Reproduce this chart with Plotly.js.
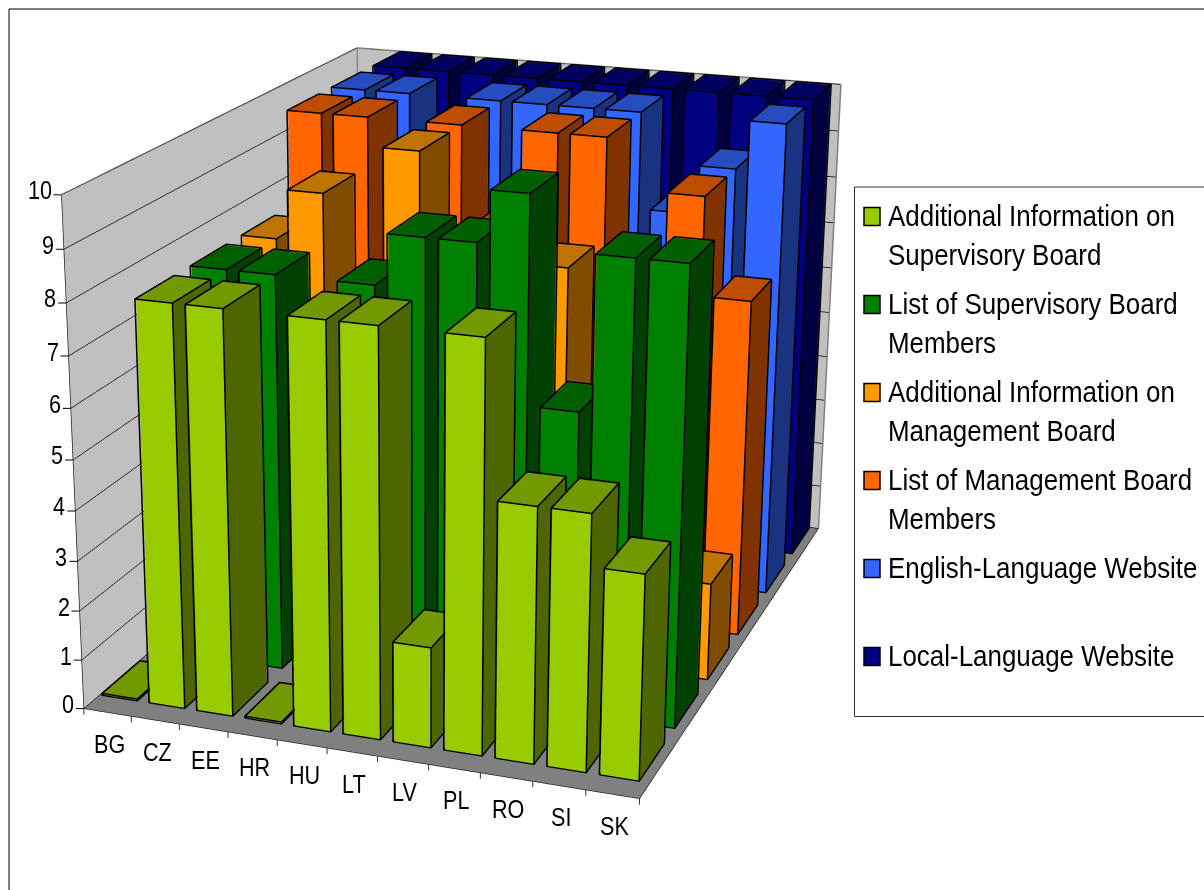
<!DOCTYPE html>
<html><head><meta charset="utf-8">
<script src="https://cdn.plot.ly/plotly-3.0.1.min.js"></script>
<style>html,body{margin:0;padding:0;background:#fff;overflow:hidden;width:1204px;height:890px}
#chart{position:absolute;left:-302px;top:-713px;width:1506px;height:2316px}
/* the chart's lettering is set in a condensed cut of the sans face */
.annotation-text{transform-box:fill-box;transform-origin:right center;transform:scaleX(.83)}
text[data-unformatted*="Board"],text[data-unformatted*="Website"]{transform-origin:left center;transform:scaleX(.865)}
</style>
</head><body><div id="chart"></div>
<script>
const categories = ['BG','CZ','EE','HR','HU','LT','LV','PL','RO','SI','SK'];
const zTicks = [0,1,2,3,4,5,6,7,8,9,10];
const seriesNames = ['Additional Information on<br>Supervisory Board','List of Supervisory Board<br>Members','Additional Information on<br>Management Board','List of Management Board<br>Members','English-Language Website','Local-Language Website'];
const addSupervisory = [0,8,8,0,8,8,2,8,5,5,4];
const listSupervisory = [0,8,8,0,8,9,9,10,6,9,9];
const addManagement = [0,8,9,0,10,8,8,8,5,5,2];
const listManagement = [0,10,10,0,10,8,10,10,7,9,7];
const englishSite = [0,10,10,0,10,10,10,10,8,9,10];
const localSite = [0,10,10,10,10,10,10,10,10,10,10];
const seriesValues = [addSupervisory,listSupervisory,addManagement,listManagement,englishSite,localSite];
const frontColors = ['#99CC00','#008000','#FF9900','#FF6600','#3366FF','#000080'];
const sideColors = ['#4D6600','#004000','#804D00','#803300','#1A3380','#000040'];
const topColors = ['#739900','#006000','#BF7300','#BF4D00','#264DBF','#000060'];

// The canvas is larger than the window so the long focal length of the view fits;
// these helpers map window pixels to paper coordinates for the overlay items.
const CANVAS = {left:-302, top:-713, w:1506, h:2316};
const px = v => (v - CANVAS.left) / CANVAS.w;
const py = v => 1 - (v - CANVAS.top) / CANVAS.h;
const textFont = size => ({family:'"Liberation Sans",Arial,sans-serif', size, color:'#000'});
const paperLine = (x0,y0,x1,y1,color) => ({type:'line',xref:'paper',yref:'paper',x0:px(x0),x1:px(x1),y0:py(y0),y1:py(y1),line:{color,width:1}});

// One mesh of cuboids and one set of black edges per series
const traces = [];
seriesValues.forEach((vals, r) => {
  const xs=[],ys=[],zs=[],I=[],J=[],K=[],fc=[],lx=[],ly=[],lz=[];
  vals.forEach((v, c) => {
    const x0=c+.05, x1=c+.8, y0=r+.28, y1=r+.98, z1=Math.max(v,.04), e=.012, n=xs.length;
    [[x0+e,y0+e,0],[x1-e,y0+e,0],[x1-e,y1-e,0],[x0+e,y1-e,0],[x0+e,y0+e,z1-e],[x1-e,y0+e,z1-e],[x1-e,y1-e,z1-e],[x0+e,y1-e,z1-e]]
      .forEach(q => { xs.push(q[0]); ys.push(q[1]); zs.push(q[2]); });
    [[0,1,5,frontColors],[0,5,4,frontColors],[1,2,6,sideColors],[1,6,5,sideColors],[4,5,6,topColors],[4,6,7,topColors]]
      .forEach(f => { I.push(n+f[0]); J.push(n+f[1]); K.push(n+f[2]); fc.push(f[3][r]); });
    const corner=[[x0,y0,0],[x1,y0,0],[x1,y1,0],[x0,y1,0],[x0,y0,z1],[x1,y0,z1],[x1,y1,z1],[x0,y1,z1]];
    [[0,1,2,3,0,4,5,6,7,4],[1,5],[2,6],[3,7]].forEach(path => {
      path.forEach(i => { lx.push(corner[i][0]); ly.push(corner[i][1]); lz.push(corner[i][2]); });
      lx.push(null); ly.push(null); lz.push(null);
    });
  });
  traces.push({type:'mesh3d',x:xs,y:ys,z:zs,i:I,j:J,k:K,facecolor:fc,flatshading:true,
    lighting:{ambient:1,diffuse:0,specular:0,roughness:1,fresnel:0},hoverinfo:'skip'});
  traces.push({type:'scatter3d',mode:'lines',x:lx,y:ly,z:lz,line:{color:'#000',width:3},hoverinfo:'skip',connectgaps:false});
});
// wall outline and floor edge
traces.push({type:'scatter3d',mode:'lines',x:[0,0,11,11,null,0,0],y:[0,6,6,6,null,6,6],z:[10,10,10,0,null,0,10],line:{color:'#808080',width:3},hoverinfo:'skip',connectgaps:false});
traces.push({type:'scatter3d',mode:'lines',x:[0,0,11,11],y:[0,0,0,6],z:[10,0,0,0],line:{color:'#222',width:1.5},hoverinfo:'skip'});

// Axis text and tick marks, placed through the scene's own coordinates
const sceneNotes = [];
categories.forEach((t,c) => sceneNotes.push({x:c+.5,y:0,z:0,text:t,showarrow:false,xshift:2,yshift:-31,font:textFont(26)}));
for (let c=0;c<=categories.length;c++) sceneNotes.push({x:c,y:0,z:0,text:' ',showarrow:true,arrowhead:0,arrowwidth:1,arrowcolor:'#333',ax:0,ay:11,standoff:0,font:textFont(6)});
zTicks.forEach(z => {
  sceneNotes.push({x:0,y:0,z:z,text:' ',showarrow:true,arrowhead:0,arrowwidth:1,arrowcolor:'#000',ax:-10,ay:0,standoff:0,font:textFont(6)});
  sceneNotes.push({x:0,y:0,z:z,text:String(z),showarrow:false,xanchor:'right',yanchor:'middle',xshift:-8,yshift:5,font:textFont(26)});
});

// Outer frame, legend box and legend entries
const shapes = [
  paperLine(9,9,9,890,'#000'),
  paperLine(9,9,1204,9,'#000'),
  paperLine(854.5,187,854.5,716.5,'#333'),
  paperLine(854.5,187,1204,187,'#333'),
  paperLine(854.5,716.5,1204,716.5,'#333')
];
const notes = [];
seriesNames.forEach((name,k) => {
  const cy = 216 + 88*k;
  shapes.push({type:'rect',xref:'paper',yref:'paper',x0:px(864),x1:px(880),y0:py(cy-8.5),y1:py(cy+9.5),fillcolor:frontColors[k],line:{color:'#000',width:1.5}});
  notes.push({xref:'paper',yref:'paper',x:px(886),y:py(cy-19),xanchor:'left',yanchor:'top',align:'left',showarrow:false,text:name,font:textFont(30)});
});

const layout = {width:CANVAS.w,height:CANVAS.h,margin:{l:0,r:0,t:0,b:0},paper_bgcolor:'rgba(0,0,0,0)',showlegend:false,shapes,annotations:notes,
  scene:{domain:{x:[0,1],y:[0,1]},aspectmode:'manual',aspectratio:{x:.6481,y:.8422,z:.5923},hovermode:false,
    camera:{eye:{x:1.0308,y:-2.976,z:1.0214},center:{x:.0476,y:-.2405,z:.0035},up:{x:.0143,y:-.0506,z:1},projection:{type:'perspective'}},
    xaxis:{range:[0,11],showticklabels:false,ticks:'',showgrid:false,zeroline:false,showbackground:true,backgroundcolor:'#C0C0C0',showline:false,title:{text:''},showspikes:false},
    yaxis:{range:[0,6],showticklabels:false,ticks:'',showgrid:false,zeroline:false,showbackground:true,backgroundcolor:'#C0C0C0',showline:false,title:{text:''},showspikes:false},
    zaxis:{range:[0,10],tickvals:zTicks,showticklabels:false,ticks:'',showgrid:true,gridcolor:'#000',gridwidth:1.5,zeroline:false,showbackground:true,backgroundcolor:'#808080',showline:false,title:{text:''},showspikes:false},
    annotations:sceneNotes}
};
Plotly.newPlot('chart',traces,layout,{displayModeBar:false});
</script></body></html>
